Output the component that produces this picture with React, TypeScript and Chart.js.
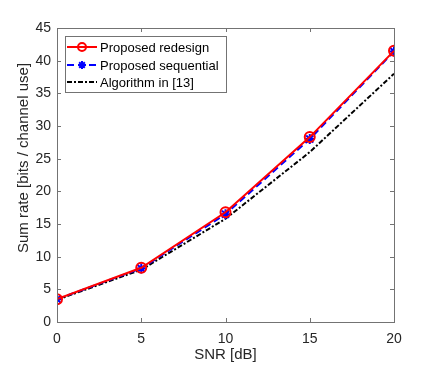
import React, { useEffect, useRef } from "react";
import { Chart, registerables } from "chart.js";
Chart.register(...registerables);

const snr = [0, 5, 10, 15, 20];
const redesign = [3.5, 8.3, 16.8, 28.3, 41.5];
const sequential = [3.5, 8.2, 16.5, 28.0, 41.4];
const algorithm13 = [3.4, 8.0, 15.8, 26.0, 38.0];
const seriesNames = ["Proposed redesign", "Proposed sequential", "Algorithm in [13]"];
const xTicks = [0, 5, 10, 15, 20];
const yTicks = [0, 5, 10, 15, 20, 25, 30, 35, 40, 45];
const xTitle = "SNR [dB]";
const yTitle = "Sum rate [bits / channel use]";

const FONT = "'Liberation Sans', Arial, Helvetica, sans-serif";
const AXIS = "#737373";
const TEXT = "#262626";

function marker(ctx: any, style: string, x: number, y: number, r: number) {
  if (style === "circle") {
    ctx.beginPath(); ctx.arc(x, y, r, 0, Math.PI * 2); ctx.stroke();
  } else {
    ctx.beginPath();
    for (let k = 0; k < 4; k++) {
      const ang = (k * Math.PI) / 4;
      ctx.moveTo(x - r * Math.cos(ang), y - r * Math.sin(ang));
      ctx.lineTo(x + r * Math.cos(ang), y + r * Math.sin(ang));
    }
    ctx.stroke();
  }
}

const frame = {
  id: "frame",
  afterDraw(chart: any) {
    const { ctx, chartArea: a, scales } = chart;
    ctx.save();
    ctx.strokeStyle = AXIS;
    ctx.lineWidth = 1;
    ctx.strokeRect(Math.round(a.left) + 0.5, Math.round(a.top) + 0.5, Math.round(a.right - a.left), Math.round(a.bottom - a.top));
    const t = 4;
    ctx.beginPath();
    for (const v of xTicks) {
      const x = Math.round(scales.x.getPixelForValue(v)) + 0.5;
      ctx.moveTo(x, a.bottom); ctx.lineTo(x, a.bottom - t);
      ctx.moveTo(x, a.top); ctx.lineTo(x, a.top + t);
    }
    for (const v of yTicks) {
      const y = Math.round(scales.y.getPixelForValue(v)) + 0.5;
      ctx.moveTo(a.left, y); ctx.lineTo(a.left + t, y);
      ctx.moveTo(a.right, y); ctx.lineTo(a.right - t, y);
    }
    ctx.stroke();

    // titles
    ctx.fillStyle = TEXT;
    ctx.font = `15px ${FONT}`;
    ctx.textAlign = "center";
    ctx.textBaseline = "middle";
    ctx.fillText(xTitle, (a.left + a.right) / 2, 355);
    ctx.save();
    ctx.translate(24, 158);
    ctx.rotate(-Math.PI / 2);
    ctx.fillText(yTitle, 0, 0);
    ctx.restore();

    // legend
    const lx = 65, ly = 36, lw = 161, lh = 56;
    ctx.fillStyle = "#ffffff";
    ctx.fillRect(lx, ly, lw, lh);
    ctx.strokeStyle = AXIS;
    ctx.strokeRect(lx + 0.5, ly + 0.5, lw, lh);
    const rows = [47, 65, 82];
    const ds = chart.data.datasets;
    rows.forEach((ry, i) => {
      const d = ds[i];
      ctx.save();
      ctx.strokeStyle = d.borderColor;
      ctx.lineWidth = d.borderWidth;
      ctx.setLineDash(d.borderDash || []);
      ctx.beginPath();
      ctx.moveTo(67, ry); ctx.lineTo(97, ry);
      ctx.stroke();
      ctx.setLineDash([]);
      if (d.pointRadius > 0) {
        ctx.strokeStyle = d.pointBorderColor;
        ctx.lineWidth = d.pointBorderWidth;
        marker(ctx, d.pointStyle, 82, ry, 4);
      }
      ctx.restore();
      ctx.fillStyle = "#000000";
      ctx.font = `13px ${FONT}`;
      ctx.textAlign = "left";
      ctx.textBaseline = "middle";
      ctx.fillText(seriesNames[i], 100, ry + 1);
    });
    ctx.restore();
  },
};

export default function App() {
  const ref = useRef<HTMLCanvasElement>(null);
  useEffect(() => {
    const mk = (arr: number[]) => snr.map((x, i) => ({ x, y: arr[i] }));
    const chart = new Chart(ref.current!, {
      type: "line",
      data: {
        datasets: [
          {
            label: seriesNames[0], data: mk(redesign), borderColor: "#ff0000", borderWidth: 2,
            pointStyle: "circle", pointRadius: 5, pointBorderWidth: 2, pointBorderColor: "#ff0000",
            pointBackgroundColor: "rgba(0,0,0,0)", fill: false, tension: 0,
          },
          {
            label: seriesNames[1], data: mk(sequential), borderColor: "#0000ff", borderWidth: 2,
            borderDash: [7, 4], pointStyle: "star", pointRadius: 5, pointBorderWidth: 2,
            pointBorderColor: "#0000ff", pointBackgroundColor: "#0000ff", fill: false, tension: 0,
          },
          {
            label: seriesNames[2], data: mk(algorithm13), borderColor: "#000000", borderWidth: 2,
            borderDash: [5, 2, 2, 2], pointRadius: 0, pointStyle: false as any, fill: false, tension: 0,
          },
        ] as any,
      },
      options: {
        animation: false,
        responsive: false,
        maintainAspectRatio: false,
        layout: { padding: { left: 0, top: 28, right: 42, bottom: 0 } },
        plugins: { legend: { display: false }, tooltip: { enabled: false } },
        scales: {
          x: {
            type: "linear", min: 0, max: 20,
            afterFit: (s: any) => { s.height = 43; },
            afterBuildTicks: (s: any) => { s.ticks = xTicks.map((v) => ({ value: v })); },
            grid: { display: false, drawTicks: false },
            border: { display: false },
            ticks: { color: TEXT, font: { family: FONT, size: 14 }, padding: 9, maxRotation: 0 },
          },
          y: {
            type: "linear", min: 0, max: 45,
            afterFit: (s: any) => { s.width = 57; },
            afterBuildTicks: (s: any) => { s.ticks = yTicks.map((v) => ({ value: v })); },
            grid: { display: false, drawTicks: false },
            border: { display: false },
            ticks: { color: TEXT, font: { family: FONT, size: 14 }, padding: 6 },
          },
        },
      } as any,
      plugins: [frame],
    });
    return () => chart.destroy();
  }, []);
  return (
    <div style={{ position: "fixed", left: 0, top: 0, width: 436, height: 365, background: "#fff" }}>
      <canvas ref={ref} width={436} height={365} style={{ width: 436, height: 365, display: "block" }} />
    </div>
  );
}
